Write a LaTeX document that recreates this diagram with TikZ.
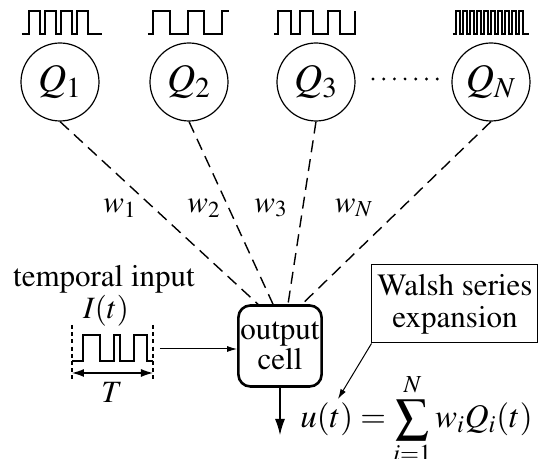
\documentclass[tikz,border=0pt]{standalone}
\usepackage[T1]{fontenc}
\usepackage{mathptmx}
\usetikzlibrary{arrows.meta}

\tikzset{
	neuron/.style={draw, circle, line width=0.6pt, minimum size=39pt, inner sep=0pt, font=\fontsize{19.5}{21}\selectfont},
	cellbox/.style={draw, rounded corners=6pt, line width=1.3pt, minimum width=40pt, minimum height=40.5pt, inner sep=1pt, align=center},
	walshbox/.style={draw, line width=0.5pt, minimum width=83pt, minimum height=39pt, inner sep=1pt, align=center},
	weight/.style={dash pattern=on 6pt off 3.5pt, line width=0.7pt},
	signal/.style={line width=0.6pt, line join=miter},
	tick/.style={dash pattern=on 2pt off 1.6pt, line width=0.6pt}
}

\begin{document}
\begin{tikzpicture}[x=0.5pt, y=-0.5pt, font=\fontsize{15.5}{17}\selectfont]

	\useasboundingbox (0,0) rectangle (538,459);

% Define nodes.

	%basis cells
	\node[neuron] (q1) at (60,82) {$Q_1$};
	\node[neuron] (q2) at (189,82) {$Q_2$};
	\node[neuron] (q3) at (316,82) {$Q_3$};
	\node[neuron] (qN) at (491,82) {$Q_N$};

	%output cell and the series box
	\node[cellbox] (cell) at (280,346) {output\\[-2pt]cell};
	\node[walshbox] (walsh) at (455,304) {Walsh series\\[-1pt]expansion};

	%weights
	\node (w1) at (120,208) {$w_1$};
	\node (w2) at (204,208) {$w_2$};
	\node (w3) at (271,208) {$w_3$};
	\node (wN) at (354,208) {$w_N$};

	%input labels
	\node (tin) at (104,279) {temporal input};
	\node (it) at (106,311) {$I(t)$};
	\node (tlab) at (112,392) {$T$};

	%expansion
	\node[anchor=base west, inner sep=0pt, font=\fontsize{16.5}{18}\selectfont] (eqn) at (300,428) {$u(t) = \displaystyle\sum_{i=1}^{N} w_i Q_i(t)$};

% Define coordinates.

	\coordinate (inStart) at (160,349);
	\coordinate (outEnd) at (280,435);
	\coordinate (uTip) at (338,399);
	\coordinate (spanL) at (72,373);
	\coordinate (spanR) at (153,373);

% Draw connections.

	\draw[weight] (q1.south) -- ([xshift=-11pt]cell.north);
	\draw[weight] (q2.south) -- ([xshift=-3.5pt]cell.north);
	\draw[weight] (q3.south) -- ([xshift=4pt]cell.north);
	\draw[weight] (qN.south) -- ([xshift=11pt]cell.north);

	\draw[line width=0.5pt, -{Latex[length=5pt, width=3pt]}] (inStart) -- (inStart -| cell.west);
	\draw[line width=0.6pt, -{Latex[length=8pt, width=5pt]}] (cell.south) -- (outEnd);
	\draw[line width=0.5pt, -{Latex[length=5pt, width=3pt]}] (walsh.south west) -- (uTip);

% Draw the dotted gap.

	\foreach \k in {0,...,6}
		\fill (373+\k*10.7,79) circle (0.8pt);

% Draw waveforms.

	\draw[signal] (22,34) -- (29,34) -- (29,11) -- (40,11) -- (40,34) -- (45,34) -- (45,11) -- (56,11) -- (56,34)
		-- (61,34) -- (61,11) -- (72,11) -- (72,34) -- (77,34) -- (77,11) -- (88,11) -- (88,34) -- (102,34);
	\draw[signal] (148,34) -- (153,34) -- (153,11) -- (170,11) -- (170,34) -- (188,34) -- (188,11) -- (204,11) -- (204,34)
		-- (222,34) -- (222,11) -- (229,11);
	\draw[signal] (274,34) -- (278,34) -- (278,11) -- (291,11) -- (291,34) -- (300,34) -- (300,11) -- (313,11) -- (313,34)
		-- (328,34) -- (328,11) -- (340,11) -- (340,34) -- (355,34) -- (355,11);
	\draw[signal] (453,34) -- (456,34) \foreach \k in {1,...,10} {-- ++(0,-23) -- ++(4,0) -- ++(0,23) -- ++(3,0)} -- (529,34);

	%temporal input
	\draw[signal] (72,361) -- (83,361) -- (83,335) -- (100,335) -- (100,361) -- (114,361) -- (114,335) -- (120,335) -- (120,361)
		-- (134,361) -- (134,335) -- (147,335) -- (147,361) -- (153,361);
	\draw[tick] (72,325) -- (72,382);
	\draw[tick] (153,325) -- (153,382);
	\draw[line width=0.6pt, {Latex[length=6pt, width=4pt]}-{Latex[length=6pt, width=4pt]}] (spanL) -- (spanR);

\end{tikzpicture}
\end{document}
